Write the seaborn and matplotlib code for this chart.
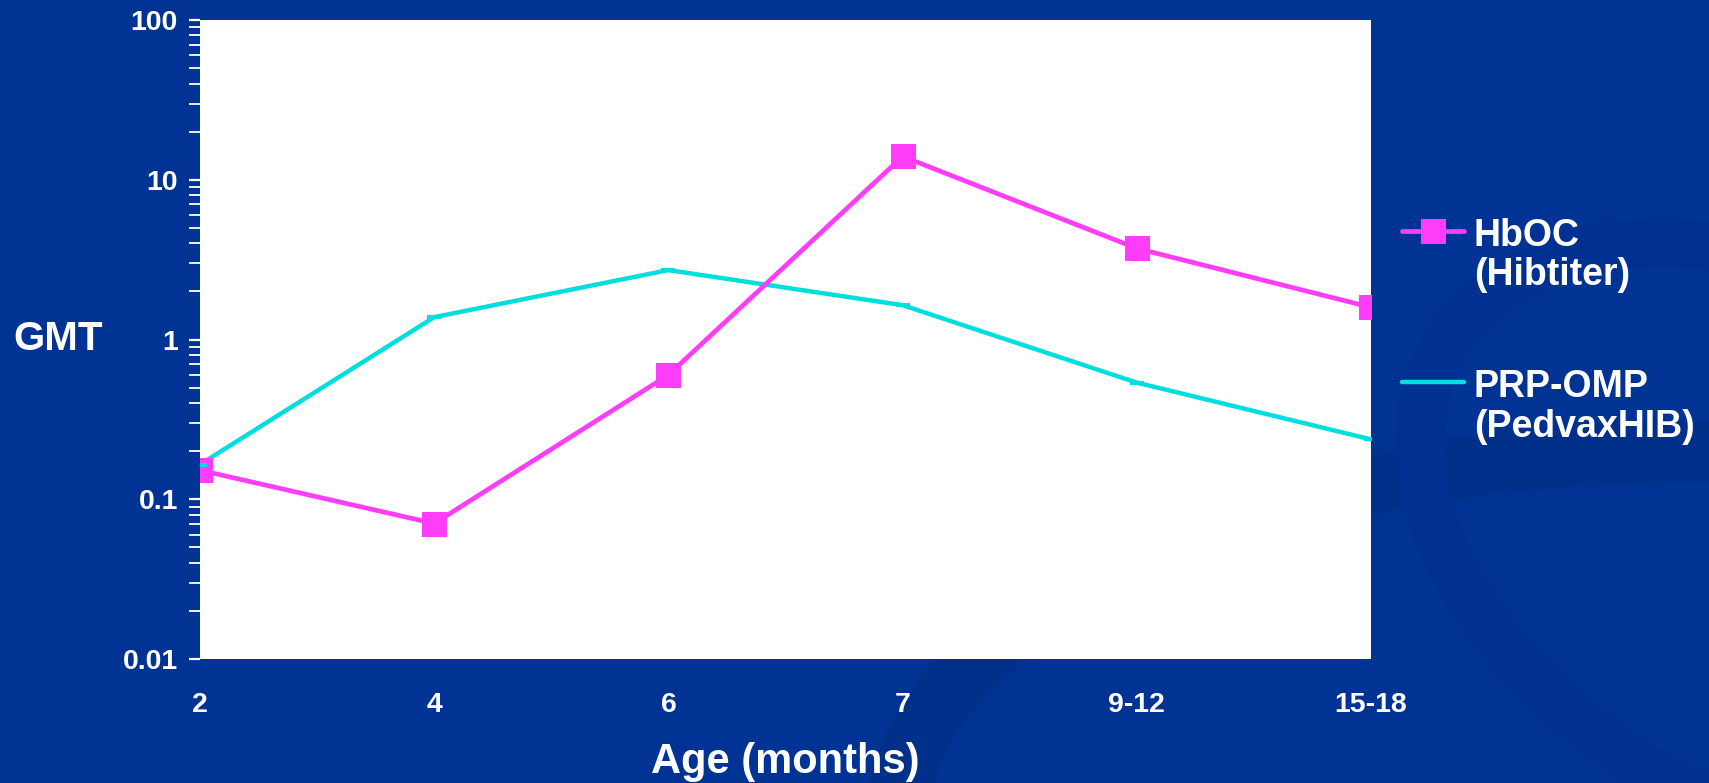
import numpy as np
import pandas as pd
import matplotlib
matplotlib.use("Agg")
import matplotlib.pyplot as plt
import seaborn as sns
from matplotlib.patches import Ellipse
from matplotlib.lines import Line2D
from matplotlib.legend_handler import HandlerLine2D
from matplotlib.ticker import FixedLocator, FuncFormatter, LogLocator, NullFormatter

# ---- data ----
ages = ["2", "4", "6", "7", "9-12", "15-18"]
hboc = [0.152, 0.0705, 0.60, 14.0, 3.72, 1.59]
prp_omp = [0.165, 1.38, 2.72, 1.64, 0.537, 0.237]
series_names = ["HbOC\n(Hibtiter)", "PRP-OMP\n(PedvaxHIB)"]
y_ticks = [0.01, 0.1, 1, 10, 100]

BG = "#003394"
MAGENTA = "#FF3DF8"
CYAN = "#00DEDE"

sns.set_theme(style="white")
plt.rcParams["font.family"] = ["Liberation Sans", "DejaVu Sans"]
plt.rcParams["font.weight"] = "bold"

df = pd.DataFrame({
    "pos": list(range(len(ages))) * 2,
    "GMT": hboc + prp_omp,
    "series": [series_names[0]] * len(ages) + [series_names[1]] * len(ages),
})

fig = plt.figure(figsize=(17.09, 7.83), dpi=100, facecolor=BG)

# subtle background swooshes (decoration)
for (cx, cy, w, h, ang, col, lw) in [
    (1.00, -0.05, 0.95, 0.95, 25, "#00308a", 45),
    (1.05, 0.30, 0.40, 0.80, 15, "#003190", 35),
]:
    e = Ellipse((cx, cy), w, h, angle=ang, transform=fig.transFigure,
                facecolor="none", edgecolor=col, linewidth=lw, zorder=0)
    fig.patches.append(e)

ax = fig.add_axes([200 / 1709, 1 - 659 / 783, (1371 - 200) / 1709, (659 - 20) / 783])
ax.set_zorder(2)
ax.set_facecolor("white")

sns.lineplot(data=df[df["series"] == series_names[1]], x="pos", y="GMT",
             color=CYAN, linewidth=3.2, ax=ax, zorder=2, legend=False)
sns.lineplot(data=df[df["series"] == series_names[0]], x="pos", y="GMT",
             color=MAGENTA, linewidth=3.4, marker="s", markersize=18,
             markeredgewidth=0, ax=ax, zorder=3, legend=False)
ax.plot(df[df["series"] == series_names[1]]["pos"], df[df["series"] == series_names[1]]["GMT"],
        linestyle="none", marker="_", markersize=10, markeredgewidth=3,
        color=CYAN, zorder=4)

ax.set_yscale("log")
ax.set_ylim(0.01, 100)
ax.set_xlim(0, len(ages) - 1)
for s in ax.spines.values():
    s.set_visible(False)

ax.yaxis.set_major_locator(FixedLocator(y_ticks))
ax.yaxis.set_major_formatter(FuncFormatter(lambda v, p: f"{v:g}"))
ax.yaxis.set_minor_locator(LogLocator(base=10, subs=np.arange(2, 10)))
ax.yaxis.set_minor_formatter(NullFormatter())
ax.tick_params(axis="y", which="both", direction="out", left=True, length=8,
               width=1.6, color="white", labelcolor="white", labelsize=20.5, pad=8)
ax.tick_params(axis="y", which="minor", width=1.3)

ax.set_xticks(range(len(ages)))
ax.set_xticklabels(ages)
ax.tick_params(axis="x", length=0, labelcolor="white", labelsize=20.5, pad=24)
for lbl in ax.get_xticklabels() + ax.get_yticklabels():
    lbl.set_fontweight("bold")

ax.set_xlabel("Age (months)", color="white", fontsize=30, fontweight="bold")
ax.xaxis.set_label_coords(0.5, -0.161)
ax.xaxis.label.set_va("center")
ax.set_ylabel("GMT", color="white", fontsize=29, fontweight="bold", rotation=0)
ax.yaxis.set_label_coords(-0.121, 0.5)
ax.yaxis.label.set_va("center")
ax.yaxis.label.set_ha("center")


class FirstLineHandler(HandlerLine2D):
    """Align legend handle with the first line of a two-line label."""
    def create_artists(self, legend, orig_handle, xdescent, ydescent,
                       width, height, fontsize, trans):
        arts = super().create_artists(legend, orig_handle, xdescent, ydescent,
                                      width, height, fontsize, trans)
        for a in arts:
            a.set_ydata(np.asarray(a.get_ydata(), dtype=float) + 0.68 * fontsize)
        return arts


LEG_FS = 27
handles = [
    Line2D([], [], color=MAGENTA, linewidth=3.4, marker="s", markersize=18, markeredgewidth=0),
    Line2D([], [], color=CYAN, linewidth=3.2),
]
leg = fig.legend(handles, series_names, loc="upper left",
                 bbox_to_anchor=(1383 / 1709, 1 - 199 / 783),
                 frameon=False, fontsize=LEG_FS, handlelength=1.67,
                 handletextpad=0.25, labelspacing=2.03, borderpad=0,
                 handler_map={Line2D: FirstLineHandler()})
for t in leg.get_texts():
    t.set_color("white")
    t.set_fontweight("bold")
    t.set_linespacing(1.12)

fig.savefig("out.png", dpi=100, facecolor=BG)
